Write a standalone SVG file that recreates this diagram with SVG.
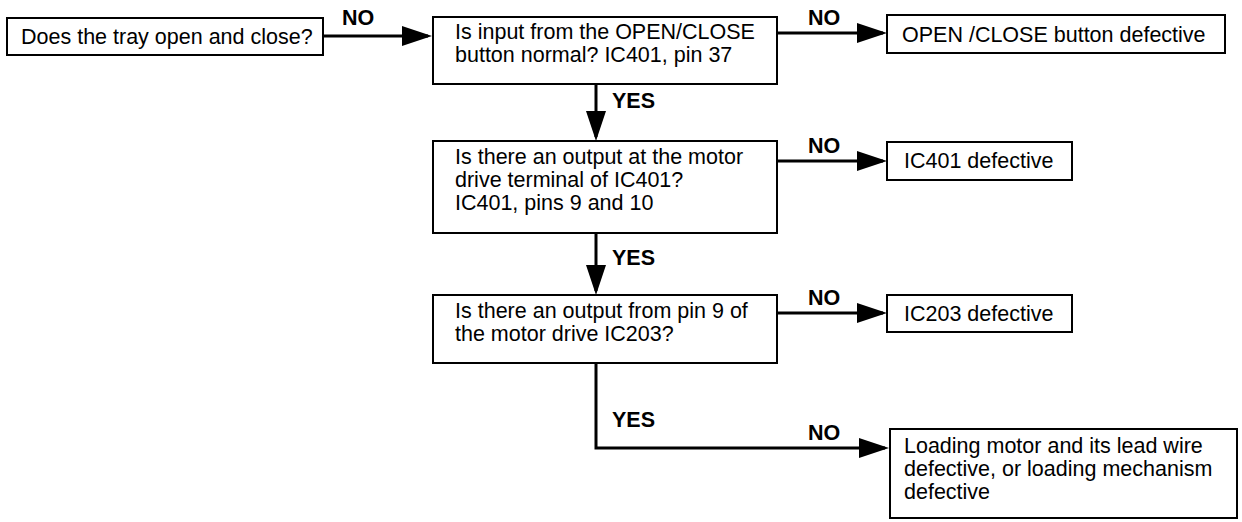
<svg xmlns="http://www.w3.org/2000/svg" width="1242" height="522" viewBox="0 0 1242 522">
<style>
  .box { fill: #ffffff; stroke: #000000; stroke-width: 2; }
  .t { font-family: "Liberation Sans", Arial, sans-serif; font-size: 21.5px; fill: #000000; }
  .lbl { font-family: "Liberation Sans", Arial, sans-serif; font-size: 21.5px; font-weight: bold; fill: #000000; }
  .conn { fill: none; stroke: #000000; stroke-width: 3; }
</style>
<defs>
  <marker id="arrow" markerUnits="userSpaceOnUse" markerWidth="30" markerHeight="20" refX="26" refY="10" orient="auto">
    <path d="M0,0 L30,10 L0,20 Z" fill="#000000"/>
  </marker>
</defs>
<rect width="1242" height="522" fill="#ffffff"/>

<g id="connectors">
  <path class="conn" d="M323,36 H428" marker-end="url(#arrow)"/>
  <path class="conn" d="M777,33 H883" marker-end="url(#arrow)"/>
  <path class="conn" d="M596,84 V137" marker-end="url(#arrow)"/>
  <path class="conn" d="M777,161 H883" marker-end="url(#arrow)"/>
  <path class="conn" d="M596,233 V291" marker-end="url(#arrow)"/>
  <path class="conn" d="M777,313 H883" marker-end="url(#arrow)"/>
  <path class="conn" d="M596,363 V448 H885" marker-end="url(#arrow)"/>
  <text class="lbl" x="342" y="25">NO</text>
  <text class="lbl" x="808" y="25">NO</text>
  <text class="lbl" x="612" y="108">YES</text>
  <text class="lbl" x="808" y="153">NO</text>
  <text class="lbl" x="612" y="265">YES</text>
  <text class="lbl" x="808" y="305">NO</text>
  <text class="lbl" x="612" y="427">YES</text>
  <text class="lbl" x="808" y="440">NO</text>
</g>

<g id="q-tray">
  <rect class="box" x="7" y="18" width="316" height="37"/>
  <text class="t" x="21" y="44">Does the tray open and close?</text>
</g>

<g id="q-input">
  <rect class="box" x="433" y="17" width="344" height="67"/>
  <text class="t" x="455" y="39">Is input from the OPEN/CLOSE</text>
  <text class="t" x="455" y="62">button normal? IC401, pin 37</text>
</g>

<g id="r-button">
  <rect class="box" x="887" y="15" width="338" height="38"/>
  <text class="t" x="902" y="42">OPEN /CLOSE button defective</text>
</g>

<g id="q-ic401">
  <rect class="box" x="433" y="141" width="344" height="92"/>
  <text class="t" x="455" y="164">Is there an output at the motor</text>
  <text class="t" x="455" y="187">drive terminal of IC401?</text>
  <text class="t" x="455" y="210">IC401, pins 9 and 10</text>
</g>

<g id="r-ic401">
  <rect class="box" x="887" y="142" width="185" height="38"/>
  <text class="t" x="904" y="168">IC401 defective</text>
</g>

<g id="q-ic203">
  <rect class="box" x="433" y="295" width="344" height="68"/>
  <text class="t" x="455" y="318">Is there an output from pin 9 of</text>
  <text class="t" x="455" y="341">the motor drive IC203?</text>
</g>

<g id="r-ic203">
  <rect class="box" x="887" y="295" width="185" height="37"/>
  <text class="t" x="904" y="321">IC203 defective</text>
</g>

<g id="r-loading">
  <rect class="box" x="890" y="429" width="347" height="89"/>
  <text class="t" x="904" y="453">Loading motor and its lead wire</text>
  <text class="t" x="904" y="476">defective, or loading mechanism</text>
  <text class="t" x="904" y="499">defective</text>
</g>
</svg>
